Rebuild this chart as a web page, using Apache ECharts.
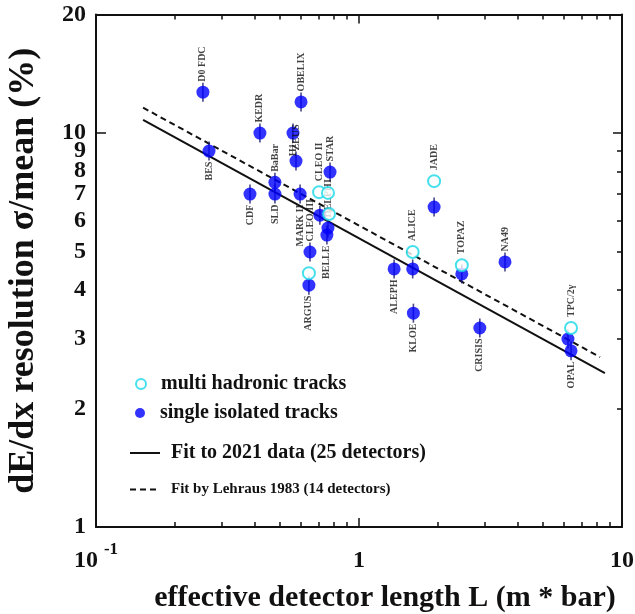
<!DOCTYPE html>
<html><head><meta charset="utf-8">
<script src="https://cdn.jsdelivr.net/npm/echarts@6/dist/echarts.min.js"></script>
<style>html,body{margin:0;padding:0;background:#fff}#c{width:635px;height:614px}</style>
</head><body><div id="c"></div>
<script>
// ---- data ----
const singleNames = ['D0 FDC','KEDR','OBELIX','BES','H1','ZEUS','BaBar','CDF','SLD','MARK II','STAR','CLEO II','DELPHI','BELLE','CLEO III','ARGUS','JADE','ALICE','ALEPH','KLOE','TOPAZ','NA49','CRISIS','TPC/2γ','OPAL'];
const singleL = [0.255,0.42,0.602,0.269,0.561,0.576,0.479,0.385,0.479,0.597,0.776,0.71,0.762,0.755,0.651,0.645,1.93,1.60,1.36,1.61,2.46,3.59,2.88,6.23,6.40];
const singleV = [12.7,10.0,12.0,9.0,10.0,8.49,7.5,7.0,7.0,7.0,7.96,6.19,5.74,5.51,4.99,4.11,6.49,4.52,4.52,3.49,4.39,4.71,3.20,3.0,2.8];
const multiNames = ['CLEO II','DELPHI','OPAL','ARGUS','JADE','ALICE','TOPAZ','TPC/2γ'];
const multiL = [0.705,0.762,0.769,0.645,1.93,1.60,2.46,6.40];
const multiV = [7.08,7.05,6.23,4.41,7.55,4.99,4.62,3.2];
const fit2021L = [0.151, 8.61];
const fit2021V = [10.8, 2.46];
const fit1983L = [0.151, 8.25];
const fit1983V = [11.6, 2.70];
const xTickLabels = [0.1, 1, 10];
const yTickLabels = [1,2,3,4,5,6,7,8,9,10,20];
const xMinorTicks = [0.2,0.3,0.4,0.5,0.6,0.7,0.8,0.9,2,3,4,5,6,7,8,9];
const yMinorTicks = [2,3,4,5,6,7,8,9];
const legendNames = ['multi hadronic tracks','single isolated tracks','Fit to 2021 data (25 detectors)','Fit by Lehraus 1983 (14 detectors)'];

// ---- label placement (style) ----
const singleLabelSide = {'D0 FDC':'top','KEDR':'top','OBELIX':'top','BES':'bottom','H1':'bottom','ZEUS':'top','BaBar':'top','CDF':'bottom','SLD':'bottom','MARK II':'bottom','STAR':'top','DELPHI':'top','BELLE':'bottom','CLEO III':'top','ARGUS':'bottom','ALEPH':'bottom','KLOE':'bottom','NA49':'top','CRISIS':'bottom','OPAL':'bottom'};
const multiLabelSide = {'CLEO II':'top','JADE':'top','ALICE':'top','TOPAZ':'top','TPC/2γ':'top'};

const FONT = '"Liberation Serif","DejaVu Serif",serif';
const INK = '#111';
const BLUE = '#0000ff';
const CYAN = '#18d8e8';

function lab(side){
  if(!side) return {show:false};
  return {show:true, position:side, rotate:90, align: side==='top'?'left':'right', verticalAlign:'middle',
    distance:4, fontFamily:FONT, fontWeight:'bold', fontSize:10, color:INK, formatter:'{b}'};
}
const singleData = singleL.map((l,i)=>({name:singleNames[i], value:[l,singleV[i]], label:lab(singleLabelSide[singleNames[i]])}));
const multiData = multiL.map((l,i)=>({name:multiNames[i], value:[l,multiV[i]], label:lab(multiLabelSide[multiNames[i]])}));
const errData = singleL.map((l,i)=>[l,singleV[i]]);
const fitA = fit2021L.map((l,i)=>[l,fit2021V[i]]);
const fitB = fit1983L.map((l,i)=>[l,fit1983V[i]]);

function xAx(pos, ticks, len, showLine, extra){
  return Object.assign({type:'log', logBase:10, min:0.1, max:10, position:pos,
    axisLine:{show:showLine, onZero:false, lineStyle:{color:INK,width:2}},
    axisTick:{show:true, inside:true, length:len, customValues:ticks, lineStyle:{color:INK,width:1.5}},
    axisLabel:{show:false}, splitLine:{show:false}, minorTick:{show:false}}, extra||{});
}
function yAx(pos, ticks, len, showLine, extra){
  return Object.assign({type:'log', logBase:10, min:1, max:20, position:pos,
    axisLine:{show:showLine, onZero:false, lineStyle:{color:INK,width:2}},
    axisTick:{show:true, inside:true, length:len, customValues:ticks, lineStyle:{color:INK,width:1.5}},
    axisLabel:{show:false}, splitLine:{show:false}, minorTick:{show:false}}, extra||{});
}
const legendText = {fontFamily:FONT,fontWeight:'bold',fontSize:20,color:INK};

const chart = echarts.init(document.getElementById('c'), null, {renderer:'canvas'});
chart.setOption({
  animation:false,
  backgroundColor:'#fff',
  grid:{left:96, right:13, top:14.5, bottom:87, containLabel:false, outerBoundsMode:'none'},
  xAxis:[
    xAx('bottom', xMinorTicks, 5, true, {
      axisLabel:{show:true, customValues:xTickLabels, margin:14,
        formatter:v=> (Math.abs(v-0.1)<1e-9 ? '{b|10}{s|-1}' : '{b|'+Math.round(v)+'}'),
        rich:{ b:{fontFamily:FONT,fontWeight:'bold',fontSize:24,color:INK,lineHeight:32,verticalAlign:'bottom'},
               s:{fontFamily:FONT,fontWeight:'bold',fontSize:17,color:INK,lineHeight:17,verticalAlign:'top',padding:[0,0,0,6]} }},
      name:'effective detector length L (m * bar)', nameLocation:'middle', nameGap:56,
      nameTextStyle:{fontFamily:FONT, fontWeight:'bold', fontSize:30, color:INK, padding:[0,0,0,52]}
    }),
    xAx('bottom', [1], 9, false),
    xAx('top', xMinorTicks, 5, true),
    xAx('top', [1], 9, false)
  ],
  yAxis:[
    yAx('left', [10], 10, true, {
      axisLabel:{show:true, customValues:yTickLabels, margin:10, fontFamily:FONT, fontWeight:'bold', fontSize:24, color:INK},
      name:'dE/dx resolution σ/mean (%)', nameLocation:'middle', nameGap:54, nameRotate:90,
      nameTextStyle:{fontFamily:FONT, fontWeight:'bold', fontSize:36, color:INK}
    }),
    yAx('right', yMinorTicks, 5, true),
    yAx('right', [10], 9, false)
  ],
  legend:[
    {data:[legendNames[0]], left:130, top:369, itemWidth:30, itemHeight:10, selectedMode:false, textStyle:legendText},
    {data:[legendNames[1]], left:130, top:398, itemWidth:30, itemHeight:10, selectedMode:false, textStyle:legendText},
    {data:[legendNames[2]], left:124, top:438, itemWidth:30, itemHeight:10, selectedMode:false,
      itemStyle:{opacity:0}, textStyle:Object.assign({padding:[0,0,0,6]}, legendText)},
    {data:[legendNames[3]], left:124, top:477, itemWidth:30, itemHeight:10, selectedMode:false,
      itemStyle:{opacity:0}, textStyle:{fontFamily:FONT,fontWeight:'bold',fontSize:15,color:INK,padding:[0,0,0,6]}}
  ],
  series:[
    {name:legendNames[2], type:'line', data:fitA, symbol:'none', xAxisIndex:0, yAxisIndex:0,
      lineStyle:{color:INK, width:2}, itemStyle:{color:INK}, z:2, silent:true},
    {name:legendNames[3], type:'line', data:fitB, symbol:'none', xAxisIndex:0, yAxisIndex:0,
      lineStyle:{color:INK, width:2, type:[6,4]}, itemStyle:{color:INK}, z:2, silent:true},
    {name:'errbars', type:'scatter', data:errData, symbol:'rect', symbolSize:[1.6,19],
      itemStyle:{color:'#1a1a6a'}, z:3, silent:true},
    {name:legendNames[1], type:'scatter', data:singleData, symbol:'circle', symbolSize:13,
      itemStyle:{color:BLUE}, z:4, labelLayout:{hideOverlap:false}},
    {name:legendNames[0], type:'scatter', data:multiData, symbol:'emptyCircle', symbolSize:12,
      itemStyle:{color:CYAN, borderColor:CYAN, borderWidth:2}, z:5}
  ]
});
</script></body></html>
